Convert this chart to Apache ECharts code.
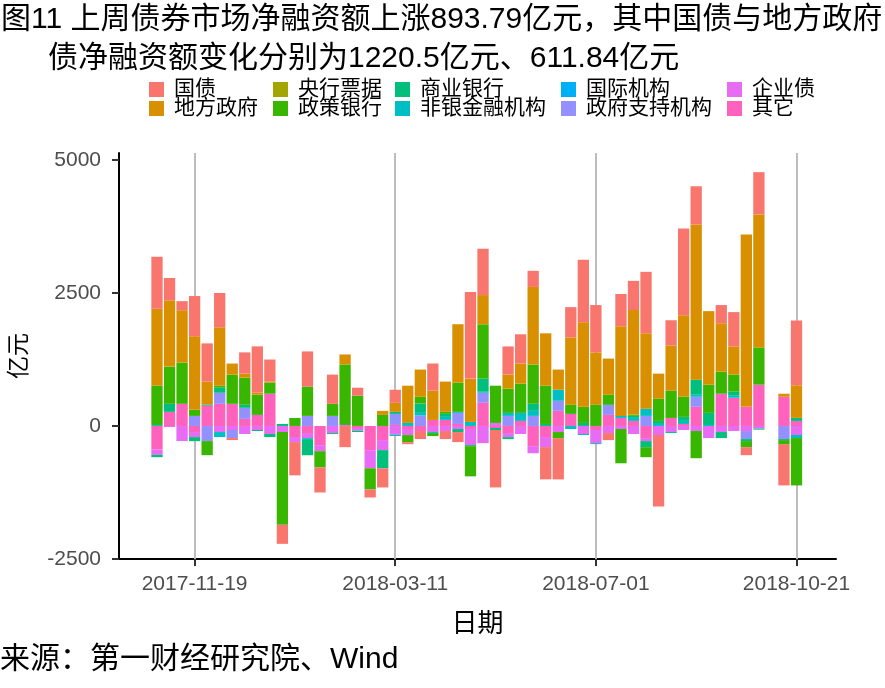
<!DOCTYPE html>
<html>
<head>
<meta charset="utf-8">
<script src="https://cdn.jsdelivr.net/npm/echarts@6/dist/echarts.min.js"></script>
<style>
  html, body { margin: 0; padding: 0; background: #fff; }
  #chart { width: 885px; height: 688px; }
</style>
</head>
<body>
<div id="chart"></div>
<script>
// 周度日期（每周日）
const weeks = [
  '2017-10-29', '2017-11-05', '2017-11-12', '2017-11-19', '2017-11-26', '2017-12-03', '2017-12-10', '2017-12-17',
  '2017-12-24', '2017-12-31', '2018-01-07', '2018-01-14', '2018-01-21', '2018-01-28', '2018-02-04', '2018-02-11',
  '2018-02-18', '2018-02-25', '2018-03-04', '2018-03-11', '2018-03-18', '2018-03-25', '2018-04-01', '2018-04-08',
  '2018-04-15', '2018-04-22', '2018-04-29', '2018-05-06', '2018-05-13', '2018-05-20', '2018-05-27', '2018-06-03',
  '2018-06-10', '2018-06-17', '2018-06-24', '2018-07-01', '2018-07-08', '2018-07-15', '2018-07-22', '2018-07-29',
  '2018-08-05', '2018-08-12', '2018-08-19', '2018-08-26', '2018-09-02', '2018-09-09', '2018-09-16', '2018-09-23',
  '2018-09-30', '2018-10-07', '2018-10-14', '2018-10-21'
]
const tickWeeks = ['2017-11-19', '2018-03-11', '2018-07-01', '2018-10-21']
const yTicks = [-2500, 0, 2500, 5000]

// 各类债券净融资额（亿元）
const guozhai = [978, 416, 170, 757, 719, 644, -38, 398, 871, 416, -360, -625, 663, -473, 549, -398,
  151, -151, -360, 246, -38, -151, 511, -151, -189, 1628, 871, -1079, 530, 549, 303, -606,
  -776, 568, 1174, 890, -133, 606, 549, 1155, -1344, 473, 1628, 719, 0, 341, 644, -151,
  795, 0, -776, 1220.5]
const difang = [1445, 1249, 984, 1382, 435, 1098, 208, 76, 38, 19, 0, 0, 0, 0, 0, 189,
  0, 0, 76, 170, 700, 511, 549, 568, 1098, 814, 549, 0, 265, 379, 1458, 984,
  379, 1268, 1590, 984, 681, 1685, 1969, 1420, 473, 852, 1533, 2915, 1382, 909, 530, 3237,
  2499, 0, 57, 611.84]
const yanghang = [0, 0, 0, 0, 0, 0, 0, 0, 0, 0, 0, 0, 0, 0, 0, 0,
  0, 0, 0, 0, 0, 0, 0, 0, 0, 0, 0, 0, 0, 0, 0, 0,
  0, 0, 0, 0, 0, 0, 0, 0, 0, 0, 0, 0, 0, 0, 0, 0,
  0, 0, 0, 0]
const zhengce = [738, 700, 776, 114, -265, 38, 549, 511, 379, 208, -1741, 151, 549, -303, 227, 1136,
  568, -398, 208, 0, -133, 126, -57, 38, 549, -568, 1022, 700, 454, 549, 738, 719,
  -114, 170, 303, 398, 189, -644, 19, -189, 416, 511, 379, -511, 530, 416, 322, -114,
  700, 0, -76, -890]
const shangye = [-44, 151, 0, -76, 0, 95, 0, 57, -19, -57, 38, 0, -303, 0, -19, 0,
  -25, 0, -341, 38, 0, 177, 0, 57, -57, -19, 246, -38, -38, 0, 133, 38,
  0, 0, 57, 0, 0, 0, 38, -114, 57, -19, 76, 284, 227, -114, 76, -38,
  -19, 0, -19, 57]
const feiyin = [19, 0, 0, 0, 19, -95, 0, 0, 0, 0, 0, 0, -19, 0, 0, 0,
  0, 0, 0, -25, 57, 50, -19, 57, 19, 76, 19, 0, 57, 151, 95, 0,
  208, -57, -19, -19, 0, 38, 57, 133, 38, 0, 57, 38, 19, 0, 38, 0,
  0, 0, 0, -57]
const guoji = [0, 0, 0, 0, 0, 0, 0, 0, 0, 0, 0, 0, 0, 0, 0, 0,
  0, 0, 0, 0, 0, 0, 0, 0, 0, 0, 0, 0, 0, 0, 0, 0,
  0, 0, 0, 0, 0, 0, 0, 0, 0, 0, 0, 0, 0, 0, 0, 0,
  0, 0, 0, 0]
const zhengfu = [0, 0, 0, 189, -284, 208, -151, 208, 0, 0, 0, 0, 189, 0, 189, 0,
  0, 0, 0, 208, 0, 196, 0, 0, 208, 0, 189, 0, 189, 0, 189, 0,
  189, 0, 0, 0, 189, 0, 0, 189, 0, 0, 0, 189, 0, 0, 0, -151,
  0, 0, -246, 0]
const qiye = [-101, -20, -284, -95, 0, -114, -76, -151, -76, -151, -114, -95, -95, -114, -133, 19,
  -50, -341, -189, -164, -114, 0, -114, -95, -57, -303, -322, 57, -76, -151, -133, -189,
  -114, 0, -151, -246, -133, -57, -151, -57, -170, -114, -76, -95, -227, -114, -95, -95,
  -50, 0, 0, -170]
const qita = [-442, 265, 416, -114, 379, 416, 416, 133, 208, 606, 0, -208, -133, -360, 0, 0,
  -38, -454, -265, 19, -57, -95, 114, 114, 38, -57, 435, -38, -133, 95, -379, -208,
  284, 227, 0, -76, 208, 151, 95, -227, 0, 151, 38, 360, 0, 606, 530, 360,
  776, 0, 549, 95]

// 堆叠顺序：靠近零轴的在前
const seriesList = [
  { name: '其它', data: qita, color: '#FF62BC' },
  { name: '企业债', data: qiye, color: '#E76BF3' },
  { name: '政府支持机构', data: zhengfu, color: '#9590FF' },
  { name: '国际机构', data: guoji, color: '#00B0F6' },
  { name: '非银金融机构', data: feiyin, color: '#00BFC4' },
  { name: '商业银行', data: shangye, color: '#00BF7D' },
  { name: '政策银行', data: zhengce, color: '#39B600' },
  { name: '央行票据', data: yanghang, color: '#A3A500' },
  { name: '地方政府', data: difang, color: '#D89000' },
  { name: '国债', data: guozhai, color: '#F8766D' }
]
const legendCols = [
  ['国债', '地方政府'],
  ['央行票据', '政策银行'],
  ['商业银行', '非银金融机构'],
  ['国际机构', '政府支持机构'],
  ['企业债', '其它']
]
const legendLeft = [149, 273, 395, 561, 727]
const legendTop = [79, 98]

const tickIdx = tickWeeks.map(d => weeks.indexOf(d))
const font = 'Liberation Sans, Noto Sans CJK SC, sans-serif'

// 每个图例项单独放置，排成 2 行 5 列
const legends = []
legendCols.forEach((col, i) => {
  col.forEach((name, j) => {
    legends.push({
      data: [name],
      left: legendLeft[i],
      top: legendTop[j],
      padding: 0,
      itemWidth: 15,
      itemHeight: 15,
      icon: 'rect',
      selectedMode: false,
      textStyle: { fontFamily: font, fontSize: 21, color: '#000', padding: [0, 0, 0, 5] }
    })
  })
})

const chart = echarts.init(document.getElementById('chart'))
const option = {
  animation: false,
  title: [{
    text: '图11 上周债券市场净融资额上涨893.79亿元，其中国债与地方政府',
    left: 1,
    top: 5,
    padding: 0,
    textStyle: { fontFamily: font, fontSize: 30, fontWeight: 'normal', color: '#000' }
  }, {
    text: '债净融资额变化分别为1220.5亿元、611.84亿元',
    left: 48,
    top: 44,
    padding: 0,
    textStyle: { fontFamily: font, fontSize: 30, fontWeight: 'normal', color: '#000' }
  }],
  legend: legends,
  graphic: [{
    type: 'text',
    left: 0,
    top: 645,
    style: { text: '来源：第一财经研究院、Wind', fontFamily: font, fontSize: 30, fill: '#000' }
  }],
  grid: { left: 116, right: 49, top: 153, bottom: 129 },
  xAxis: {
    type: 'value',
    min: -3.03,
    max: 54.15,
    name: '日期',
    nameLocation: 'middle',
    nameGap: 53,
    nameTextStyle: { fontFamily: font, fontSize: 26, color: '#000' },
    axisLine: { show: true, onZero: false, lineStyle: { color: '#000', width: 2 } },
    axisTick: { show: true, length: 7, customValues: tickIdx, lineStyle: { color: '#333', width: 2 } },
    axisLabel: {
      customValues: tickIdx,
      formatter: v => weeks[v],
      margin: 15,
      fontFamily: font,
      fontSize: 21,
      color: '#4d4d4d'
    },
    splitLine: { show: false }
  },
  yAxis: {
    type: 'value',
    min: -2500,
    max: 5130,
    name: '亿元',
    nameLocation: 'middle',
    nameGap: 88,
    nameRotate: 90,
    nameTextStyle: { fontFamily: font, fontSize: 23, color: '#000' },
    axisLine: { show: true, onZero: false, lineStyle: { color: '#000', width: 2 } },
    axisTick: { show: true, length: 7, customValues: yTicks, lineStyle: { color: '#333', width: 2 } },
    axisLabel: {
      customValues: yTicks,
      formatter: v => String(v),
      margin: 18,
      fontFamily: font,
      fontSize: 21,
      color: '#4d4d4d'
    },
    splitLine: { show: false }
  },
  series: seriesList.map((s, k) => {
    const item = {
      name: s.name,
      type: 'bar',
      stack: 'total',
      barWidth: 11.3,
      itemStyle: { color: s.color },
      // 数值维度放在首位，使堆叠作用于 y
      encode: { x: 1, y: 0 },
      data: s.data.map((v, i) => [v, i])
    }
    if (k === 0) {
      // 竖向网格线（与日期刻度对齐）
      item.markLine = {
        silent: true,
        symbol: 'none',
        z: 1,
        label: { show: false },
        lineStyle: { color: '#bdbdbd', width: 2, type: 'solid' },
        data: tickIdx.map(x => ({ xAxis: x }))
      }
    }
    return item
  })
}
chart.setOption(option)
</script>
</body>
</html>
